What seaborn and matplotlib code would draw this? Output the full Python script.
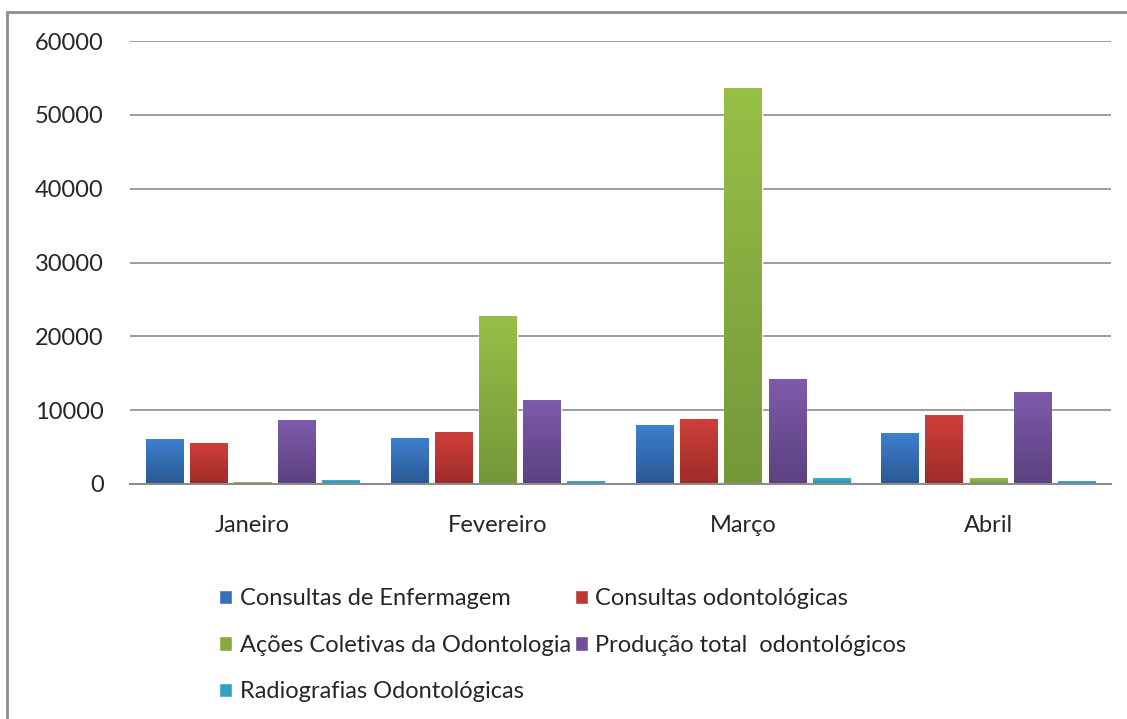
import pandas as pd
import numpy as np
import matplotlib.pyplot as plt
import seaborn as sns
from matplotlib.patches import Rectangle
from matplotlib.colors import LinearSegmentedColormap

# Data
meses = ['Janeiro', 'Fevereiro', 'Março', 'Abril']
series = ['Consultas de Enfermagem', 'Consultas odontológicas',
          'Ações Coletivas da Odontologia', 'Produção total  odontológicos',
          'Radiografias Odontológicas']
enfermagem = [6000, 6150, 7950, 6850]
odontologicas = [5500, 6950, 8750, 9300]
acoes_coletivas = [250, 22750, 53550, 700]
producao_total = [8600, 11350, 14100, 12450]
radiografias = [450, 320, 700, 320]
cores = ['#3570B8', '#BE3833', '#86AB3A', '#6E4F98', '#31A2C1']
# gradient (top, bottom) for the bars
gradientes = [('#3D80CF', '#2B5893'), ('#CF3F3A', '#9E2B28'),
              ('#97C046', '#74973A'), ('#7E5BAB', '#5C4180'),
              ('#3AB2D4', '#2889A6')]

valores = [enfermagem, odontologicas, acoes_coletivas, producao_total, radiografias]
df = pd.DataFrame({
    'mes': [m for s in series for m in meses],
    'serie': [s for s in series for _ in meses],
    'valor': [v for vals in valores for v in vals],
})

sns.set_style('white')
plt.rcParams['font.family'] = ['Lato', 'DejaVu Sans']

fig = plt.figure(figsize=(11.27, 7.19), dpi=100)
ax = fig.add_axes([130 / 1127, 1 - 484 / 719, 981 / 1127, 443 / 719])

sns.barplot(data=df, x='mes', y='valor', hue='serie', hue_order=series,
            palette=cores, width=0.9, gap=0.15, saturation=1, ax=ax,
            legend=True)

# paint a vertical gradient over each bar
xlim = ax.get_xlim()
grad = np.linspace(0, 1, 256).reshape(-1, 1)
for cont, (top, bot) in zip(ax.containers, gradientes):
    cmap = LinearSegmentedColormap.from_list('g', [bot, top])
    for bar in cont:
        x0, y0 = bar.get_x(), bar.get_y()
        w, h = bar.get_width(), bar.get_height()
        ax.imshow(grad, extent=[x0, x0 + w, y0, y0 + h], origin='lower',
                  aspect='auto', cmap=cmap, zorder=bar.get_zorder() + 0.1)
ax.set_xlim(xlim)

ax.set_ylim(0, 60000)
ax.set_yticks(range(0, 60001, 10000))
ax.yaxis.grid(True, color='#8c8c8c', linewidth=1.2)
ax.set_axisbelow(True)
for s in ['top', 'right', 'left']:
    ax.spines[s].set_visible(False)
ax.spines['bottom'].set_color('#8c8c8c')
ax.spines['bottom'].set_linewidth(1.5)
ax.spines['bottom'].set_zorder(5)
ax.tick_params(axis='y', length=0, pad=19, labelsize=17)
ax.tick_params(axis='x', length=0, pad=22, labelsize=17)
ax.set_xlabel('')
ax.set_ylabel('')

# legend below, reordered so rows read like the original
handles, labels = ax.get_legend_handles_labels()
ax.get_legend().remove()
order = [0, 2, 4, 1, 3]
fig.legend([handles[i] for i in order], [labels[i] for i in order],
           loc='upper left', bbox_to_anchor=(210 / 1127, 1 - 579 / 719),
           ncol=2, frameon=False, fontsize=17, handlelength=0.55,
           handleheight=0.55, handletextpad=0.3, columnspacing=0.2,
           labelspacing=1.08, borderaxespad=0)

# outer chart frame
fig.patches.append(Rectangle((7 / 1127, -0.1), 1.2, 1.1 - 12 / 719,
                             transform=fig.transFigure, fill=False,
                             edgecolor='#8c8c8c', linewidth=2))

fig.savefig('out.png', dpi=100)
